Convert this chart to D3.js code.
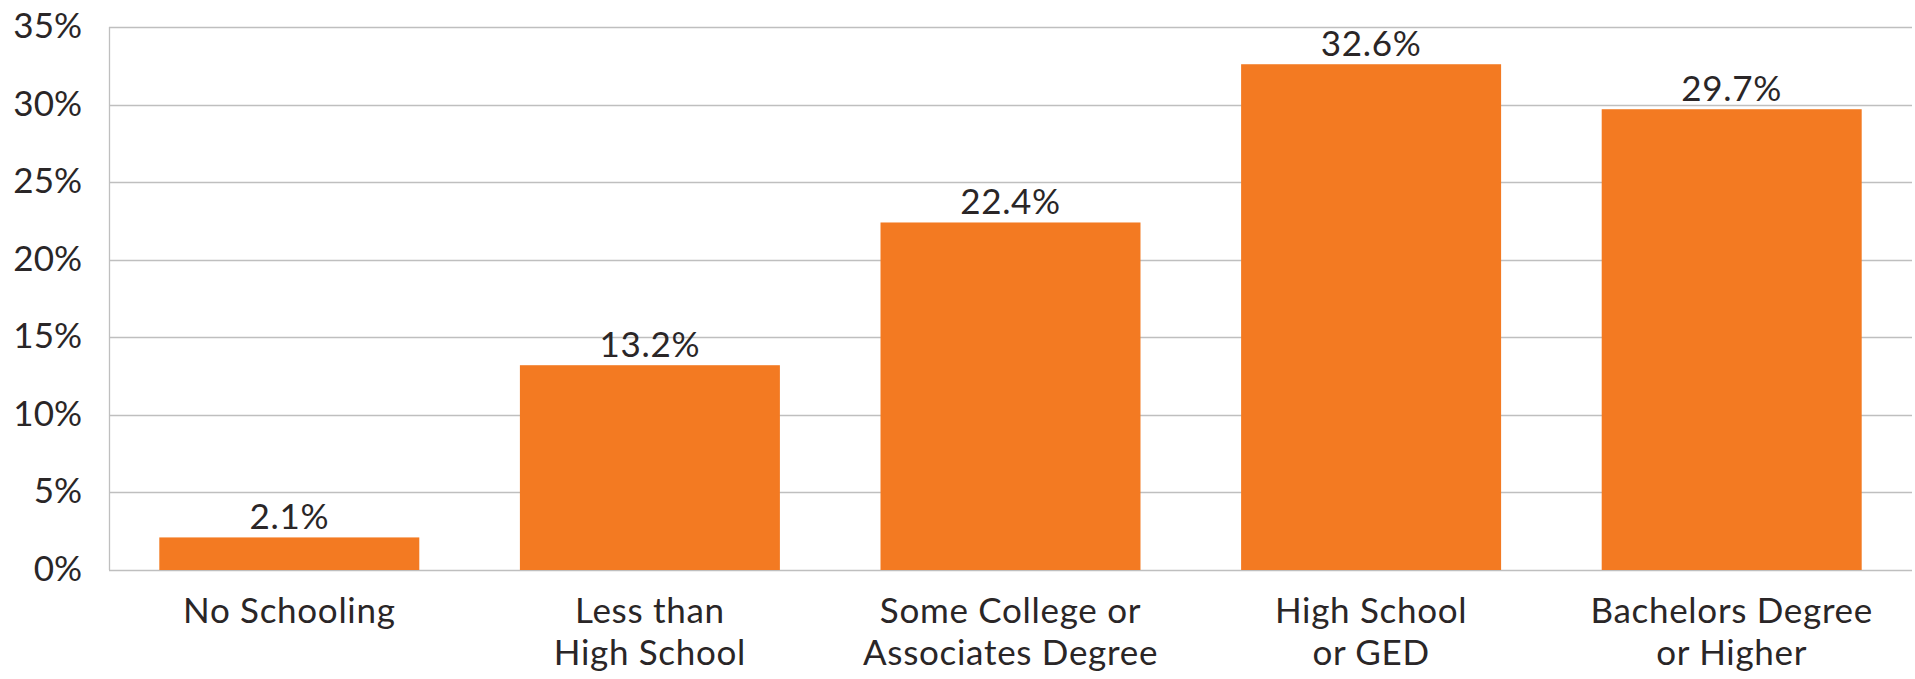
<!DOCTYPE html>
<html>
<head>
<meta charset="utf-8">
<script src="https://cdn.jsdelivr.net/npm/d3@7"></script>
<style>
  html, body { margin: 0; padding: 0; background: #fff; }
  svg { display: block; }
  text { font-family: Lato, "Open Sans", sans-serif; font-weight: 400; fill: #2a2627; }
  .cat, .val { letter-spacing: 0.7px; }
</style>
</head>
<body>
<svg id="chart" width="1915" height="679"></svg>
<script>
// Education attainment shares
const categories = [
  ["No Schooling"],
  ["Less than", "High School"],
  ["Some College or", "Associates Degree"],
  ["High School", "or GED"],
  ["Bachelors Degree", "or Higher"]
];
const values = [2.1, 13.2, 22.4, 32.6, 29.7];
const yTicks = [0, 5, 10, 15, 20, 25, 30, 35];

const width = 1915, height = 679;
const margin = { top: 27, right: 3, bottom: 109, left: 109 };
const innerW = width - margin.left - margin.right;
const innerH = height - margin.top - margin.bottom;
const fontSize = 35;

const svg = d3.select("#chart");
const g = svg.append("g").attr("transform", `translate(${margin.left},${margin.top})`);

const x = d3.scaleBand()
  .domain(d3.range(categories.length))
  .range([0, innerW])
  .paddingInner(0.279)
  .paddingOuter(0.1395);

const y = d3.scaleLinear().domain([0, 35]).range([innerH, 0]);

// Horizontal gridlines
g.append("g")
  .selectAll("line")
  .data(yTicks)
  .join("line")
  .attr("x1", 0)
  .attr("x2", innerW)
  .attr("y1", d => Math.round(y(d)) + 0.5)
  .attr("y2", d => Math.round(y(d)) + 0.5)
  .attr("stroke", "#bfbfbf")
  .attr("stroke-width", 1.3);

// Vertical axis line
g.append("line")
  .attr("x1", 0.5).attr("x2", 0.5)
  .attr("y1", y(35)).attr("y2", y(0))
  .attr("stroke", "#bfbfbf")
  .attr("stroke-width", 1.3);

// Y tick labels
const yAxis = d3.axisLeft(y)
  .tickValues(yTicks)
  .tickFormat(d => d + "%")
  .tickSize(0)
  .tickPadding(27);
const yG = g.append("g").call(yAxis);
yG.select(".domain").remove();
yG.selectAll("text")
  .attr("font-size", fontSize)
  .attr("dy", "0.3em")
  .style("font-family", "Lato, sans-serif")
  .attr("fill", "#2a2627");

// Bars
g.append("g")
  .selectAll("rect")
  .data(values)
  .join("rect")
  .attr("x", (d, i) => x(i))
  .attr("width", x.bandwidth())
  .attr("y", d => y(d))
  .attr("height", d => innerH - y(d))
  .attr("fill", "#f37a22");

// Value labels
g.append("g")
  .selectAll("text")
  .data(values)
  .join("text")
  .attr("class", "val")
  .attr("x", (d, i) => x(i) + x.bandwidth() / 2)
  .attr("y", d => y(d) - 8)
  .attr("text-anchor", "middle")
  .attr("font-size", fontSize)
  .text(d => d.toFixed(1) + "%");

// Category labels
const catG = g.append("g");
categories.forEach((lines, i) => {
  const t = catG.append("text")
    .attr("class", "cat")
    .attr("x", x(i) + x.bandwidth() / 2)
    .attr("y", innerH + 53)
    .attr("text-anchor", "middle")
    .attr("font-size", fontSize);
  lines.forEach((line, j) => {
    t.append("tspan")
      .attr("x", x(i) + x.bandwidth() / 2)
      .attr("dy", j === 0 ? 0 : 42)
      .text(line);
  });
});
</script>
</body>
</html>
